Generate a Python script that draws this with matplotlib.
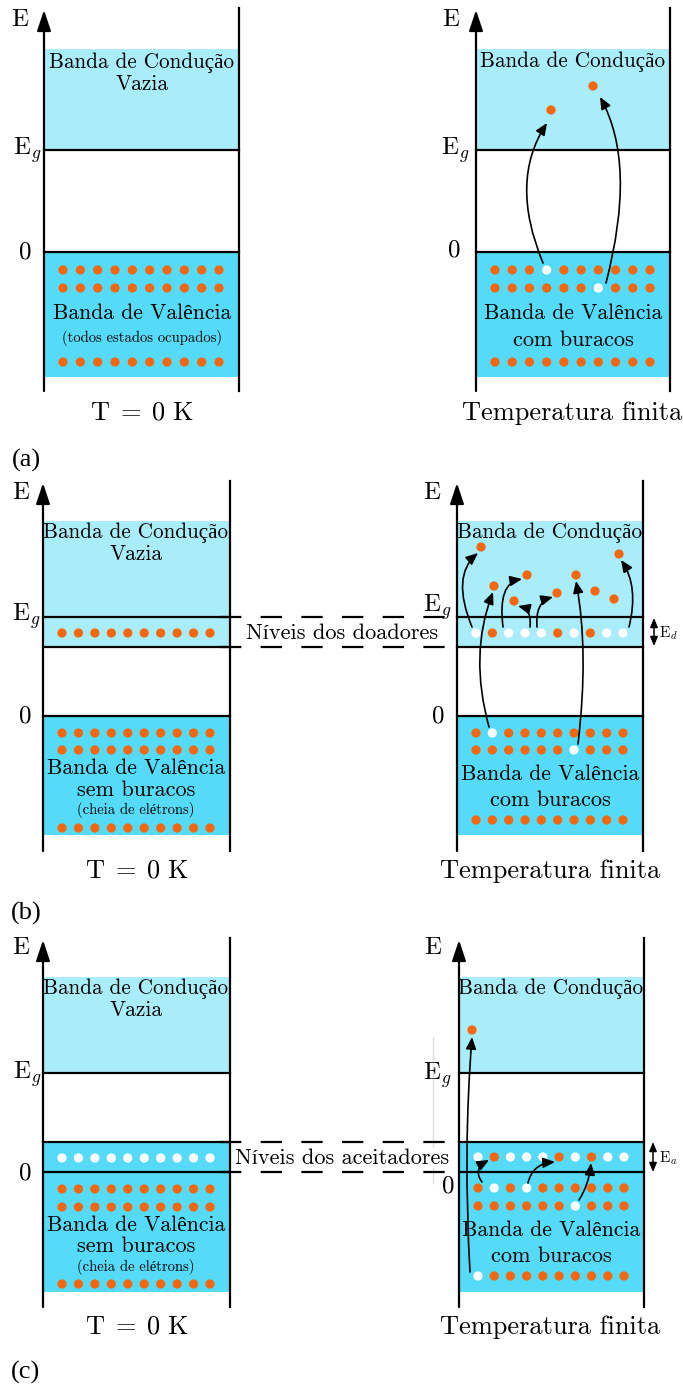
import numpy as np
import matplotlib
matplotlib.use('Agg')
import matplotlib.pyplot as plt
from matplotlib.patches import Rectangle, FancyArrowPatch
from matplotlib.path import Path

plt.rcParams['mathtext.fontset'] = 'cm'
FONT = ['cmr10', 'Liberation Serif', 'DejaVu Serif']

LIGHT = '#aaedfa'
DEEP = '#55daf8'
ORANGE = '#f4670e'

# occupation of the 10 states in each row (1 = electron, 0 = empty / hole)
full = [1] * 10
a_cold_val = [full, full, full]
a_hot_val = [[1, 1, 1, 0, 1, 1, 1, 1, 1, 1],
             [1, 1, 1, 1, 1, 1, 0, 1, 1, 1],
             full]
b_cold_donor = full
b_hot_donor = [0, 1, 0, 0, 0, 1, 0, 1, 0, 0]
b_hot_val = [[1, 0, 1, 1, 1, 1, 1, 1, 1, 1],
             [1, 1, 1, 1, 1, 1, 0, 1, 1, 1],
             full]
c_cold_acc = [0] * 10
c_hot_acc = [0, 1, 0, 0, 0, 1, 0, 1, 0, 0]
c_hot_val = [[1, 0, 1, 0, 1, 1, 1, 1, 1, 1],
             [1, 1, 1, 1, 1, 1, 0, 1, 1, 1],
             [0, 1, 1, 1, 1, 1, 1, 1, 1, 1]]

# free electrons excited into the conduction band
a_free_x = [551, 593]
a_free_y = [110, 86]
b_free_x = [481, 494, 527, 514, 557, 576, 595, 614, 619]
b_free_y = [547, 586, 575, 601, 593, 575, 591, 599, 554]
c_free_x = [472]
c_free_y = [1030]

# transitions: (tail, point on the curve, head)
a_jumps = [((543, 263), (527, 187), (547, 123)),
           ((606, 283), (620, 177), (600, 97))]
b_jumps = [((472, 627), (463, 583), (478, 553)),
           ((489, 727), (480, 657), (493, 592)),
           ((503, 627), (505, 593), (522, 579)),
           ((530, 627), (528, 613), (518, 606)),
           ((537, 627), (540, 607), (553, 597)),
           ((578, 744), (583, 657), (576, 581)),
           ((629, 627), (632, 590), (621, 560))]
c_jumps = [((470, 1272), (467, 1153), (472, 1037)),
           ((482, 1182), (479, 1170), (489, 1160)),
           ((528, 1183), (537, 1168), (555, 1162)),
           ((579, 1200), (587, 1183), (591, 1163))]

fig = plt.figure(figsize=(6.83, 13.87), dpi=100)
ax = fig.add_axes([0, 0, 1, 1])
ax.set_xlim(0, 683)
ax.set_ylim(1387, 0)
ax.axis('off')

COND_FS = 15.2
VAL_FS = 15.6
SUB_FS = 16
SMALL_FS = 10.5


def txt(x, y, s, size=15.5, **kw):
    ax.text(x, y, s, fontsize=size, family=FONT, ha='center', va='center', **kw)


def frame(x0, x1, tip, bottom):
    ax.annotate('', xy=(x0, tip), xytext=(x0, bottom),
                arrowprops=dict(arrowstyle='-|>,head_length=0.9,head_width=0.3',
                                lw=1.6, color='black', mutation_scale=14,
                                shrinkA=0, shrinkB=0), zorder=7)
    ax.plot([x1, x1], [tip - 2, bottom], color='black', lw=1.6, zorder=7)


def band(x0, x1, y0, y1, color):
    ax.add_patch(Rectangle((x0, y0), x1 - x0, y1 - y0, color=color, lw=0, zorder=1))


def level(x0, x1, y):
    ax.plot([x0, x1], [y, y], color='black', lw=1.6, zorder=3)


def states(x0, x1, y, occ):
    xs = np.linspace(x0 + 19, x1 - 20, len(occ))
    cols = [ORANGE if o else 'white' for o in occ]
    ax.scatter(xs, [y] * len(occ), s=44, c=cols, edgecolors='none', zorder=5)


def jump(p0, pm, p1):
    p0, pm, p1 = np.array(p0, float), np.array(pm, float), np.array(p1, float)
    c = 2 * pm - (p0 + p1) / 2
    path = Path([p0, c, p1], [Path.MOVETO, Path.CURVE3, Path.CURVE3])
    ax.add_patch(FancyArrowPatch(path=path,
                                 arrowstyle='-|>,head_length=0.65,head_width=0.28',
                                 mutation_scale=11, lw=1.2, color='black', zorder=6))


def side_labels(xe, ye, xg, yg, x0, y0):
    txt(xe, ye, 'E', size=18)
    ax.text(xg, yg, r'$\mathrm{E}_g$', fontsize=18, ha='center', va='center')
    txt(x0, y0, '0', size=18)


def dashed(y):
    ax.plot([220, 458], [y, y], color='black', lw=1.6, dashes=[9.6, 8.7], zorder=2)


def t_zero(x, y):
    ax.text(x, y, r'$\mathrm{T}\;=\;0\ \mathrm{K}$', fontsize=19, ha='center', va='center')


# ---------------- (a) intrinsic ----------------
for (x0, x1) in [(44, 239), (476, 670)]:
    band(x0, x1, 49, 150, LIGHT)
    band(x0, x1, 252, 377, DEEP)
    level(x0, x1, 150)
    level(x0, x1, 252)
    frame(x0, x1, 10, 391)

for row, y in zip(a_cold_val, [270, 288, 362]):
    states(44, 239, y, row)
for row, y in zip(a_hot_val, [270, 288, 362]):
    states(476, 670, y, row)
ax.scatter(a_free_x, a_free_y, s=44, c=ORANGE, edgecolors='none', zorder=5)
for j in a_jumps:
    jump(*j)

side_labels(20, 20, 27, 150, 25, 252)
side_labels(451, 20, 455, 150, 454, 250)
txt(142, 63, 'Banda de Condução', size=COND_FS)
txt(142, 84, 'Vazia')
txt(142, 313, 'Banda de Valência', size=VAL_FS)
txt(142, 338, '(todos estados ocupados)', size=SMALL_FS)
t_zero(142, 412)
txt(573, 62, 'Banda de Condução', size=COND_FS)
txt(573, 313, 'Banda de Valência', size=VAL_FS)
txt(573, 340, 'com buracos', size=SUB_FS)
txt(572, 413, 'Temperatura finita', size=19)
ax.text(26, 460, '(a)', fontsize=19, family='Liberation Serif', ha='center', va='center')

# ---------------- (b) donors ----------------
dashed(617)
dashed(647)
for (x0, x1) in [(43, 230), (457, 643)]:
    band(x0, x1, 521, 647, LIGHT)
    band(x0, x1, 716, 835, DEEP)
    level(x0, x1, 617)
    level(x0, x1, 647)
    level(x0, x1, 716)
    frame(x0, x1, 483, 851)

states(43, 230, 633, b_cold_donor)
for y in [733, 750, 828]:
    states(43, 230, y, full)
states(457, 643, 633, b_hot_donor)
for row, y in zip(b_hot_val, [733, 750, 820]):
    states(457, 643, y, row)
ax.scatter(b_free_x, b_free_y, s=44, c=ORANGE, edgecolors='none', zorder=5)
for j in b_jumps:
    jump(*j)

side_labels(21, 493, 26, 616, 25, 716)
side_labels(432, 493, 437, 607, 438, 716)
txt(136, 533, 'Banda de Condução', size=COND_FS)
txt(136, 554, 'Vazia')
txt(136, 768, 'Banda de Valência', size=VAL_FS)
txt(136, 790, 'sem buracos', size=SUB_FS)
txt(136, 810, '(cheia de elétrons)', size=SMALL_FS)
t_zero(137, 871)
txt(550, 533, 'Banda de Condução', size=COND_FS)
txt(550, 774, 'Banda de Valência', size=VAL_FS)
txt(550, 800, 'com buracos', size=SUB_FS)
txt(550, 871, 'Temperatura finita', size=19)
txt(342, 633, 'Níveis dos doadores', size=16,
    bbox=dict(facecolor='white', edgecolor='none', pad=0.5))
ax.annotate('', xy=(654, 618), xytext=(654, 646),
            arrowprops=dict(arrowstyle='<|-|>,head_length=0.6,head_width=0.25',
                            lw=1.1, color='black', mutation_scale=9, shrinkA=0, shrinkB=0))
ax.text(668, 633, r'$\mathrm{E}_d$', fontsize=11, ha='center', va='center')
ax.text(26, 913, '(b)', fontsize=19, family='Liberation Serif', ha='center', va='center')

# ---------------- (c) acceptors ----------------
dashed(1142)
dashed(1172)
ax.plot([433, 433], [1037, 1183], color='#dddddd', lw=1.0, zorder=0)
for (x0, x1) in [(43, 230), (459, 644)]:
    band(x0, x1, 977, 1073, LIGHT)
    band(x0, x1, 1142, 1292, DEEP)
    level(x0, x1, 1073)
    level(x0, x1, 1142)
    level(x0, x1, 1172)
    frame(x0, x1, 940, 1307)

states(43, 230, 1158, c_cold_acc)
for y in [1189, 1207, 1284]:
    states(43, 230, y, full)
states(459, 644, 1157, c_hot_acc)
for row, y in zip(c_hot_val, [1188, 1206, 1276]):
    states(459, 644, y, row)
ax.scatter(c_free_x, c_free_y, s=44, c=ORANGE, edgecolors='none', zorder=5)
for j in c_jumps:
    jump(*j)

side_labels(21, 948, 27, 1074, 25, 1173)
side_labels(433, 948, 437, 1075, 448, 1186)
txt(136, 989, 'Banda de Condução', size=COND_FS)
txt(136, 1010, 'Vazia')
txt(136, 1225, 'Banda de Valência', size=VAL_FS)
txt(136, 1246, 'sem buracos', size=SUB_FS)
txt(136, 1267, '(cheia de elétrons)', size=SMALL_FS)
t_zero(137, 1327)
txt(551, 989, 'Banda de Condução', size=COND_FS)
txt(551, 1230, 'Banda de Valência', size=VAL_FS)
txt(551, 1256, 'com buracos', size=SUB_FS)
txt(550, 1327, 'Temperatura finita', size=19)
txt(342, 1158, 'Níveis dos aceitadores', size=16,
    bbox=dict(facecolor='white', edgecolor='none', pad=0.5))
ax.annotate('', xy=(653, 1142), xytext=(653, 1172),
            arrowprops=dict(arrowstyle='<|-|>,head_length=0.6,head_width=0.25',
                            lw=1.1, color='black', mutation_scale=9, shrinkA=0, shrinkB=0))
ax.text(668, 1158, r'$\mathrm{E}_a$', fontsize=11, ha='center', va='center')
ax.text(26, 1372, '(c)', fontsize=19, family='Liberation Serif', ha='center', va='center')

fig.savefig('out.png', dpi=100)
